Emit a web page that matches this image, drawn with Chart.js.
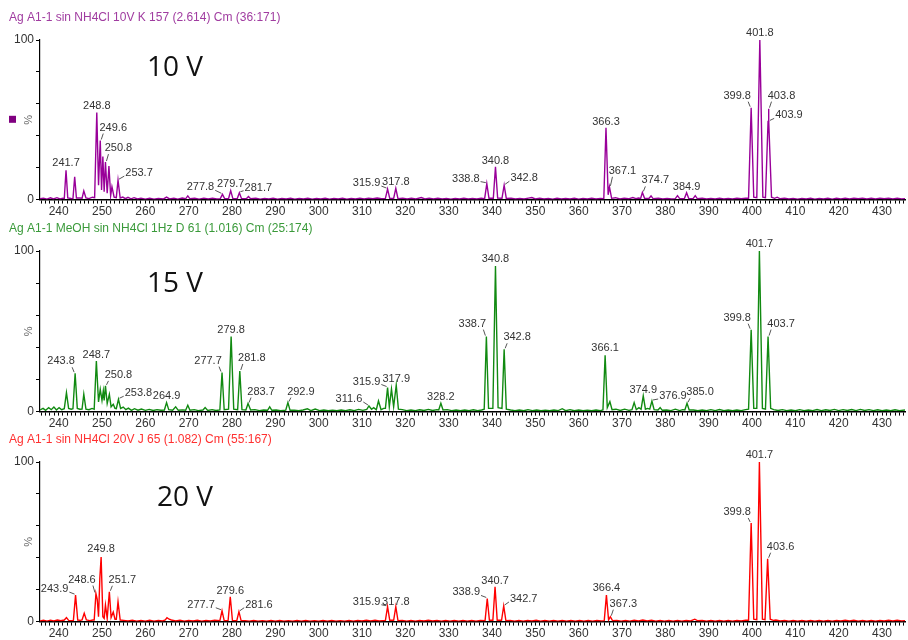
<!DOCTYPE html>
<html>
<head>
<meta charset="utf-8">
<script src="https://cdn.jsdelivr.net/npm/chart.js@4.4.1/dist/chart.umd.min.js"></script>
<style>
  body { margin: 0; background: #fff; width: 908px; height: 640px; overflow: hidden; position: relative; }
  .panel { position: absolute; left: 0; width: 908px; }
</style>
</head>
<body>
<div class="panel" style="top:0;height:220px"><canvas id="c10"></canvas></div>
<div class="panel" style="top:220px;height:212px"><canvas id="c15"></canvas></div>
<div class="panel" style="top:432px;height:210px"><canvas id="c20"></canvas></div>
<script>
// m/z range and axis ticks
const mzMin = 235.7;
const mzMax = 435.3;
const xTickLabels = [240, 250, 260, 270, 280, 290, 300, 310, 320, 330, 340, 350, 360, 370, 380, 390, 400, 410, 420, 430];
const yTickLabels = [0, 100];

// 10 V spectrum (purple)
const mz10 = [
  235.7, 236.5, 237.3, 238.1, 238.8, 239.6, 240.3, 241.0, 241.3, 241.7,
  242.1, 242.9, 243.3, 243.7, 244.1, 244.9, 245.4, 245.8, 246.3, 247.0,
  247.8, 248.3, 248.8, 249.2, 249.6, 249.9, 250.2, 250.5, 250.8, 251.2,
  251.6, 252.0, 252.3, 252.8, 253.3, 253.7, 254.2, 254.8, 255.4, 256.0,
  256.7, 257.4, 258.2, 259.0, 260.0, 261.0, 262.0, 263.0, 264.2, 264.9,
  265.6, 266.6, 267.5, 268.5, 269.3, 269.8, 270.3, 271.4, 272.4, 273.5,
  274.5, 275.5, 276.5, 277.3, 277.8, 278.3, 279.2, 279.7, 280.2, 281.2,
  281.7, 282.2, 283.3, 283.8, 284.3, 285.5, 286.5, 287.5, 288.5, 289.5,
  290.5, 291.5, 292.5, 293.5, 294.5, 295.5, 296.5, 297.5, 298.5, 299.5,
  300.5, 301.5, 302.5, 303.5, 304.5, 305.5, 306.5, 307.5, 308.5, 309.5,
  310.5, 311.5, 312.5, 313.5, 314.5, 315.4, 315.9, 316.4, 317.3, 317.8,
  318.3, 319.4, 320.4, 321.4, 322.4, 323.7, 324.5, 325.5, 326.5, 327.5,
  328.5, 329.5, 330.5, 331.5, 332.5, 333.5, 334.5, 335.5, 336.5, 337.5,
  338.3, 338.8, 339.3, 340.3, 340.8, 341.3, 342.3, 342.8, 343.3, 344.4,
  345.4, 346.4, 347.4, 348.4, 349.2, 350.0, 351.0, 352.0, 353.0, 354.0,
  355.0, 356.0, 357.0, 358.0, 359.0, 360.0, 361.0, 362.0, 363.0, 364.0,
  365.0, 365.8, 366.3, 366.8, 367.1, 367.6, 368.5, 369.5, 370.5, 371.5,
  372.5, 373.2, 373.8, 374.3, 374.7, 375.2, 376.2, 376.7, 377.2, 378.4,
  379.4, 380.4, 381.4, 382.3, 382.8, 383.3, 384.4, 384.9, 385.4, 386.4,
  386.9, 387.4, 388.5, 389.5, 390.5, 391.5, 392.5, 393.5, 394.5, 395.5,
  396.5, 397.5, 398.5, 399.2, 399.8, 400.4, 401.1, 401.8, 402.5, 403.1,
  403.7, 403.8, 403.9, 404.5, 405.2, 405.8, 406.5, 407.5, 408.5, 409.5,
  410.5, 411.5, 412.5, 413.5, 414.5, 415.5, 416.5, 417.5, 418.5, 419.5,
  420.5, 421.5, 422.5, 423.5, 424.5, 425.5, 426.5, 427.5, 428.5, 429.5,
  430.5, 431.5, 432.5, 433.5, 434.5, 435.3
];
const int10 = [
  0.5, 0.9, 0.3, 1.1, 0.4, 1.2, 0.4, 0.9, 0.6, 18.4,
  1.0, 0.7, 0.6, 14.3, 1.0, 1.0, 0.9, 5.4, 1.0, 0.6,
  1.5, 1.2, 54.5, 9.0, 37.0, 6.0, 27.0, 5.0, 23.5, 4.0,
  21.0, 2.5, 8.0, 1.5, 1.2, 12.2, 1.0, 1.6, 0.6, 1.4,
  0.5, 1.2, 0.4, 0.9, 0.3, 0.8, 0.3, 0.7, 0.4, 1.6,
  0.4, 0.8, 0.3, 1.0, 0.5, 2.3, 0.5, 0.8, 0.3, 0.9,
  0.4, 0.8, 0.4, 0.6, 3.3, 0.6, 0.5, 5.6, 0.6, 0.5,
  4.3, 0.6, 0.5, 1.9, 0.5, 0.8, 0.3, 0.7, 0.4, 0.8,
  0.3, 0.7, 0.4, 0.8, 0.3, 0.7, 0.4, 0.8, 0.3, 0.7,
  0.4, 0.8, 0.3, 0.7, 0.4, 0.8, 0.3, 0.7, 0.4, 0.9,
  0.4, 0.9, 0.5, 1.0, 0.6, 0.8, 6.6, 0.8, 0.7, 7.0,
  0.6, 0.9, 0.4, 0.8, 0.4, 1.3, 0.4, 0.9, 0.4, 0.8,
  0.4, 0.7, 0.3, 0.7, 0.4, 0.8, 0.4, 0.7, 0.4, 0.8,
  0.6, 10.0, 0.8, 0.8, 20.5, 0.9, 0.8, 9.0, 0.7, 0.8,
  0.4, 0.7, 0.4, 0.9, 1.3, 0.4, 0.8, 0.4, 0.7, 0.3,
  0.8, 0.4, 0.7, 0.4, 0.8, 0.3, 0.7, 0.4, 0.8, 0.4,
  0.7, 0.6, 45.0, 3.0, 8.0, 0.8, 1.2, 0.4, 0.8, 0.5,
  1.3, 0.6, 1.0, 0.7, 4.5, 0.8, 0.7, 2.3, 0.5, 0.8,
  0.4, 0.7, 0.4, 0.6, 2.5, 0.6, 0.7, 4.3, 0.7, 0.6,
  2.5, 0.5, 0.8, 0.4, 0.7, 0.4, 0.8, 0.4, 0.7, 0.4,
  0.8, 0.5, 0.9, 0.8, 57.6, 1.5, 1.2, 100, 1.5, 1.2,
  49.0, 57.0, 49.0, 1.5, 0.8, 1.5, 0.5, 0.8, 0.4, 0.7,
  0.3, 0.7, 0.4, 0.8, 0.3, 0.7, 0.4, 0.8, 0.3, 0.8,
  0.4, 0.9, 0.4, 0.8, 0.5, 0.9, 0.4, 0.8, 0.4, 0.9,
  0.5, 0.8, 0.4, 0.8, 0.4, 0.6
];
const labels10 = ['241.7', '248.8', '249.6', '250.8', '253.7', '277.8', '279.7', '281.7', '315.9', '317.8',
  '338.8', '340.8', '342.8', '366.3', '367.1', '374.7', '384.9', '399.8', '401.8', '403.8', '403.9'];

// 15 V spectrum (green)
const mz15 = [
  235.7, 236.4, 237.0, 237.7, 238.3, 238.9, 239.5, 240.1, 240.7, 241.3,
  241.8, 242.3, 242.9, 243.3, 243.8, 244.3, 244.9, 245.4, 245.8, 246.3,
  247.0, 247.7, 248.2, 248.7, 249.2, 249.6, 250.0, 250.3, 250.5, 250.8,
  251.2, 251.7, 252.1, 252.6, 253.0, 253.3, 253.8, 254.3, 254.9, 255.5,
  256.1, 256.8, 257.5, 258.3, 259.1, 260.0, 260.9, 261.8, 262.7, 263.6,
  264.4, 264.9, 265.4, 266.3, 267.0, 267.6, 268.6, 269.3, 269.8, 270.3,
  271.3, 272.2, 273.3, 273.8, 274.4, 275.4, 276.3, 277.2, 277.7, 278.2,
  279.2, 279.8, 280.4, 281.3, 281.8, 282.3, 283.2, 283.7, 284.3, 285.3,
  286.3, 287.3, 288.2, 288.7, 289.2, 290.2, 291.2, 292.4, 292.9, 293.4,
  294.4, 295.4, 296.4, 297.4, 298.2, 299.2, 300.2, 301.2, 302.2, 303.2,
  304.2, 305.2, 306.2, 307.2, 308.2, 309.2, 310.2, 311.1, 311.6, 312.2,
  312.7, 313.3, 313.8, 314.4, 315.0, 315.4, 315.9, 316.3, 316.8, 317.3,
  317.9, 318.4, 319.3, 320.3, 321.3, 322.3, 323.3, 324.3, 325.3, 326.3,
  327.3, 327.7, 328.2, 328.7, 329.7, 330.7, 331.7, 332.7, 333.7, 334.7,
  335.7, 336.7, 337.6, 338.2, 338.7, 339.2, 340.2, 340.8, 341.4, 342.3,
  342.8, 343.3, 344.3, 345.3, 346.3, 347.3, 348.3, 349.3, 350.3, 351.3,
  352.3, 353.3, 354.3, 355.3, 356.2, 357.0, 358.0, 359.0, 360.0, 361.0,
  362.0, 363.0, 364.0, 365.0, 365.6, 366.1, 366.6, 367.2, 367.7, 368.6,
  369.6, 370.6, 371.6, 372.3, 372.8, 373.3, 373.9, 374.4, 374.9, 375.4,
  375.9, 376.4, 376.9, 377.4, 378.3, 378.8, 379.3, 380.3, 381.3, 382.3,
  383.3, 384.0, 384.5, 385.0, 385.5, 386.5, 387.5, 388.5, 389.5, 390.5,
  391.5, 392.5, 393.5, 394.5, 395.5, 396.5, 397.5, 398.5, 399.2, 399.8,
  400.4, 401.1, 401.7, 402.4, 403.1, 403.7, 404.3, 405.0, 406.0, 407.0,
  408.0, 409.0, 410.0, 411.0, 412.0, 413.0, 414.0, 415.0, 416.0, 417.0,
  418.0, 419.0, 420.0, 421.0, 422.0, 423.0, 424.0, 425.0, 426.0, 427.0,
  428.0, 429.0, 430.0, 431.0, 432.0, 433.0, 434.0, 435.3
];
const int15 = [
  1.0, 2.0, 0.8, 2.5, 1.2, 2.8, 1.0, 2.5, 1.2, 1.8,
  11.8, 2.0, 1.5, 1.8, 23.9, 2.0, 1.5, 1.6, 10.8, 1.5,
  1.2, 2.0, 1.5, 31.5, 6.0, 13.9, 7.0, 12.9, 7.0, 16.0,
  5.0, 10.8, 3.0, 4.6, 2.0, 1.8, 7.7, 2.0, 2.8, 1.2,
  2.2, 0.8, 1.8, 0.9, 1.6, 0.8, 1.4, 0.7, 1.2, 0.8,
  1.0, 5.6, 1.2, 0.9, 3.0, 0.8, 1.1, 0.9, 4.0, 0.9,
  1.2, 0.6, 1.0, 2.5, 0.7, 1.2, 0.7, 1.0, 24.3, 1.2,
  1.5, 46.7, 1.5, 1.2, 25.3, 1.2, 1.0, 5.0, 1.0, 1.2,
  0.6, 1.0, 0.8, 3.0, 0.8, 1.0, 0.5, 0.9, 5.6, 0.8,
  0.9, 0.5, 1.0, 1.8, 0.6, 1.6, 0.6, 1.0, 0.5, 0.9,
  0.5, 1.0, 0.6, 1.1, 0.6, 1.4, 0.8, 1.4, 3.5, 1.5,
  2.5, 1.2, 6.6, 1.2, 2.0, 2.0, 15.0, 3.0, 14.0, 3.0,
  16.4, 1.5, 1.2, 0.6, 1.0, 0.6, 1.1, 0.7, 1.4, 0.7,
  1.2, 1.0, 5.2, 1.0, 1.2, 0.6, 1.0, 0.5, 1.0, 0.6,
  1.1, 0.6, 1.0, 1.5, 46.7, 2.0, 2.0, 90.7, 2.5, 2.0,
  38.8, 1.5, 1.0, 0.6, 1.0, 0.5, 1.2, 0.6, 1.0, 0.5,
  0.9, 0.5, 1.0, 0.6, 1.8, 0.6, 1.2, 0.5, 1.0, 0.5,
  0.9, 0.5, 1.0, 0.6, 1.0, 35.0, 2.5, 6.2, 1.2, 1.5,
  0.7, 1.5, 0.8, 1.2, 5.6, 1.2, 2.5, 1.5, 9.8, 1.5,
  2.0, 1.5, 6.6, 1.2, 1.0, 2.5, 0.8, 1.0, 0.6, 1.5,
  0.6, 1.2, 1.0, 5.2, 1.0, 1.0, 0.5, 1.0, 0.6, 1.2,
  0.6, 1.3, 0.6, 1.0, 0.5, 1.0, 0.6, 1.2, 1.5, 51.0,
  2.0, 2.0, 100, 2.0, 1.5, 46.7, 2.0, 1.2, 0.7, 1.2,
  0.6, 1.0, 0.5, 1.2, 0.6, 1.0, 0.6, 1.3, 0.6, 1.1,
  0.7, 1.4, 0.6, 1.2, 0.7, 1.3, 0.6, 1.4, 0.7, 1.2,
  0.6, 1.1, 0.6, 1.0, 0.5, 1.1, 0.6, 1.0
];
const labels15 = ['243.8', '248.7', '250.8', '253.8', '264.9', '277.7', '279.8', '281.8', '283.7', '292.9',
  '311.6', '315.9', '317.9', '328.2', '338.7', '340.8', '342.8', '366.1', '374.9', '376.9', '385.0',
  '399.8', '401.7', '403.7'];

// 20 V spectrum (red)
const mz20 = [
  235.7, 236.5, 237.3, 238.1, 238.9, 239.7, 240.5, 241.3, 241.8, 242.3,
  243.0, 243.4, 243.9, 244.4, 245.0, 245.4, 245.9, 246.4, 247.2, 247.9,
  248.2, 248.6, 248.9, 249.2, 249.5, 249.8, 250.2, 250.5, 250.8, 251.2,
  251.7, 252.1, 252.6, 253.0, 253.3, 253.7, 254.2, 255.0, 256.0, 257.0,
  258.0, 259.0, 260.0, 261.0, 262.0, 263.0, 264.0, 264.6, 265.0, 265.5,
  266.0, 267.0, 268.0, 269.0, 270.0, 271.0, 272.0, 273.0, 274.0, 275.0,
  276.0, 277.2, 277.7, 278.2, 279.1, 279.6, 280.1, 281.1, 281.6, 282.1,
  283.0, 284.0, 285.0, 286.0, 287.0, 288.0, 289.0, 290.0, 291.0, 292.0,
  293.0, 294.0, 295.0, 296.0, 297.0, 298.0, 299.0, 300.0, 301.0, 302.0,
  303.0, 304.0, 305.0, 306.0, 307.0, 308.0, 309.0, 310.0, 311.0, 312.0,
  313.0, 314.0, 315.4, 315.9, 316.4, 317.3, 317.8, 318.3, 319.3, 320.3,
  321.3, 322.3, 323.3, 324.3, 325.3, 326.3, 327.3, 328.3, 329.3, 330.3,
  331.3, 332.3, 333.3, 334.3, 335.3, 336.3, 337.3, 338.4, 338.9, 339.4,
  340.2, 340.7, 341.2, 342.2, 342.7, 343.2, 344.2, 345.2, 346.2, 347.2,
  348.2, 349.2, 350.2, 351.2, 352.2, 353.2, 354.2, 355.2, 356.2, 357.2,
  358.2, 359.2, 360.2, 361.2, 362.2, 363.2, 364.2, 365.2, 365.9, 366.4,
  366.9, 367.3, 367.8, 368.8, 369.8, 370.8, 371.8, 372.8, 373.8, 374.8,
  375.8, 376.8, 377.8, 378.8, 379.8, 380.8, 381.8, 382.8, 383.8, 384.8,
  385.8, 386.8, 387.5, 388.5, 389.5, 390.5, 391.5, 392.5, 393.5, 394.5,
  395.5, 396.5, 397.5, 398.5, 399.2, 399.8, 400.4, 401.1, 401.7, 402.4,
  403.0, 403.6, 404.2, 404.9, 405.5, 406.5, 407.5, 408.5, 409.5, 410.5,
  411.5, 412.5, 413.5, 414.5, 415.5, 416.5, 417.5, 418.5, 419.5, 420.5,
  421.5, 422.5, 423.5, 424.5, 425.5, 426.5, 427.5, 428.5, 429.5, 430.5,
  431.5, 432.5, 433.5, 434.5, 435.3
];
const int20 = [
  0.4, 0.8, 0.3, 0.9, 0.4, 1.0, 0.5, 1.0, 2.5, 0.8,
  0.6, 0.8, 16.6, 1.0, 0.8, 1.0, 5.2, 1.0, 0.6, 1.0,
  1.0, 17.6, 14.0, 3.0, 27.0, 40.5, 3.0, 2.0, 10.4, 2.0,
  18.7, 2.5, 6.0, 1.5, 1.5, 12.4, 1.0, 0.8, 0.4, 0.8,
  0.3, 0.7, 0.3, 0.8, 0.3, 0.7, 0.4, 1.0, 2.5, 1.5,
  1.0, 0.4, 0.8, 0.3, 0.7, 0.4, 0.8, 0.3, 0.7, 0.4,
  0.8, 0.6, 6.8, 0.6, 0.6, 15.6, 0.8, 0.6, 6.2, 0.6,
  0.6, 0.3, 0.7, 0.3, 0.6, 0.3, 0.7, 0.3, 0.7, 0.3,
  0.6, 0.3, 0.7, 0.3, 0.7, 0.3, 0.6, 0.3, 0.7, 0.3,
  0.7, 0.3, 0.6, 0.3, 0.7, 0.3, 0.7, 0.4, 0.8, 0.4,
  0.8, 0.4, 0.8, 9.3, 0.8, 0.8, 9.3, 0.6, 0.7, 0.3,
  0.7, 0.3, 0.7, 0.4, 0.8, 0.4, 0.7, 0.3, 0.7, 0.3,
  0.7, 0.3, 0.7, 0.3, 0.7, 0.3, 0.7, 0.6, 14.5, 0.8,
  0.8, 21.8, 0.8, 0.8, 9.8, 0.6, 0.7, 0.3, 0.7, 0.3,
  0.7, 0.4, 0.8, 0.3, 0.7, 0.3, 0.7, 0.3, 0.7, 0.3,
  0.7, 0.3, 0.7, 0.3, 0.7, 0.3, 0.7, 0.4, 0.6, 16.6,
  1.0, 3.1, 0.6, 0.7, 0.3, 0.7, 0.3, 0.8, 0.4, 1.0,
  0.4, 0.8, 0.3, 0.7, 0.3, 0.7, 0.3, 0.7, 0.3, 0.7,
  0.4, 1.5, 0.5, 0.7, 0.3, 0.7, 0.3, 0.7, 0.3, 0.7,
  0.3, 0.7, 0.4, 0.8, 0.8, 61.8, 1.5, 1.2, 100, 1.5,
  1.2, 39.4, 1.5, 0.8, 1.0, 0.4, 0.7, 0.3, 0.7, 0.3,
  0.7, 0.3, 0.7, 0.3, 0.7, 0.3, 0.7, 0.3, 0.7, 0.4,
  0.8, 0.4, 0.8, 0.3, 0.7, 0.3, 0.7, 0.3, 0.7, 0.4,
  0.8, 0.4, 0.8, 0.4, 0.6
];
const labels20 = ['243.9', '248.6', '249.8', '251.7', '277.7', '279.6', '281.6', '315.9', '317.8',
  '338.9', '340.7', '342.7', '366.4', '367.3', '399.8', '401.7', '403.6'];

// label placement (offset of label centre from peak tip, px)
const shifts10 = [[0, -7], [0, -7], [13, -13], [13, -14], [21, -7], [-22, -7], [0, -7], [19, -5], [-21, -6], [0, -6],
  [-21, -5], [0, -6], [20, -7], [0, -6], [13, -16], [13, -12], [0, -6], [-14, -12], [0, -7], [13, -13], [20, -6]];
const shifts15 = [[-14, -12], [0, -6], [13, -11], [20, -6], [0, -7], [-14, -12], [0, -7], [12, -13], [13, -12], [13, -11],
  [-20, -7], [-21, -6], [0, -6], [0, -6], [-14, -13], [0, -7], [13, -12], [0, -7], [0, -6], [21, -5], [13, -11],
  [-14, -12], [0, -7], [13, -13]];
const shifts20 = [[-21, -6], [-14, -14], [0, -8], [13, -12], [-21, -6], [0, -6], [20, -7], [-21, -5], [0, -5],
  [-21, -6], [0, -6], [20, -7], [0, -7], [13, -13], [-14, -11], [0, -7], [13, -12]];

const tickFont = { family: '"Liberation Sans", Arial, sans-serif', size: 12 };
const labelFont = '11px "Liberation Sans", Arial, sans-serif';

// Titles, peak labels and annotations
const peakLabels = {
  id: 'peakLabels',
  afterDatasetsDraw(chart, args, o) {
    const { ctx, chartArea } = chart;
    const x = chart.scales.x, y = chart.scales.y;
    ctx.save();

    ctx.font = '12px "Liberation Sans", Arial, sans-serif';
    ctx.fillStyle = o.titleColor;
    ctx.textAlign = 'left';
    ctx.textBaseline = 'middle';
    ctx.fillText(o.title, 9, chartArea.top - 22);

    const yMid = y.getPixelForValue(50);
    if (o.marker) {
      ctx.fillStyle = o.marker;
      ctx.fillRect(9, yMid - 4, 7, 7);
    }
    ctx.save();
    ctx.translate(29, yMid);
    ctx.rotate(-Math.PI / 2);
    ctx.fillStyle = '#666';
    ctx.font = '11px "Liberation Sans", Arial, sans-serif';
    ctx.textAlign = 'center';
    ctx.fillText('%', 0, 0);
    ctx.restore();

    ctx.font = '28px "Open Sans", sans-serif';
    ctx.fillStyle = '#111';
    ctx.textAlign = 'left';
    ctx.fillText(o.voltage, o.vx, chartArea.top + o.vdy);

    ctx.font = labelFont;
    ctx.fillStyle = '#333';
    ctx.strokeStyle = '#555';
    ctx.lineWidth = 1;
    ctx.textAlign = 'center';
    o.labels.forEach((txt, i) => {
      const m = parseFloat(txt);
      let k = 0;
      o.mz.forEach((v, j) => { if (Math.abs(v - m) < Math.abs(o.mz[k] - m)) k = j; });
      const px = x.getPixelForValue(o.mz[k]);
      const py = y.getPixelForValue(o.inten[k]);
      const [dx, dy] = o.shifts[i];
      const cx = px + dx, cy = py + dy;
      ctx.fillText(txt, cx, cy);
      if (dx !== 0) {
        const w = ctx.measureText(txt).width;
        let ex, ey = cy + 3;
        if (dx > 0) {
          ex = cx - w / 2 - 1;
          if (ex < px + 3) { ex = px + 3; ey = cy + 6; }
        } else {
          ex = cx + w / 2 + 1;
          if (ex > px - 3) { ex = px - 3; ey = cy + 6; }
        }
        ctx.beginPath();
        ctx.moveTo(px + Math.sign(dx), py - 1);
        ctx.lineTo(ex, ey);
        ctx.stroke();
      }
    });
    ctx.restore();
  }
};

function makeSpectrum(id, mz, inten, cfg) {
  new Chart(document.getElementById(id), {
    type: 'line',
    data: {
      datasets: [{
        data: mz.map((v, i) => ({ x: v, y: inten[i] })),
        borderColor: cfg.color,
        borderWidth: 1.4,
        pointRadius: 0,
        tension: 0
      }]
    },
    options: {
      animation: false,
      responsive: true,
      maintainAspectRatio: false,
      layout: { padding: { top: cfg.padTop, left: 12, right: 3, bottom: 0 } },
      scales: {
        x: {
          type: 'linear',
          min: mzMin,
          max: mzMax,
          grid: { drawOnChartArea: false, tickLength: 4, color: '#000' },
          border: { color: '#000', width: 1.5 },
          ticks: {
            stepSize: 1,
            autoSkip: false,
            maxRotation: 0,
            includeBounds: false,
            padding: 1,
            color: '#333',
            font: tickFont,
            callback: v => xTickLabels.includes(v) ? String(v) : ''
          }
        },
        y: {
          min: 0,
          max: 100,
          grid: { drawOnChartArea: false, tickLength: 4, color: '#000' },
          border: { color: '#000', width: 1.2 },
          ticks: {
            stepSize: 10,
            padding: 2,
            color: '#333',
            font: tickFont,
            callback: v => yTickLabels.includes(v) ? String(v) : ''
          }
        }
      },
      plugins: {
        legend: { display: false },
        tooltip: { enabled: false },
        peakLabels: {
          title: cfg.title, titleColor: cfg.titleColor, marker: cfg.marker,
          voltage: cfg.voltage, vx: cfg.vx, vdy: cfg.vdy,
          labels: cfg.labels, shifts: cfg.shifts, mz: mz, inten: inten
        }
      }
    },
    plugins: [peakLabels]
  });
}

makeSpectrum('c10', mz10, int10, {
  color: '#990099', padTop: 40, title: 'Ag A1-1 sin NH4Cl 10V K 157 (2.614) Cm (36:171)',
  titleColor: '#a03ca0', marker: '#800080', voltage: '10 V', vx: 147, vdy: 28,
  labels: labels10, shifts: shifts10
});
makeSpectrum('c15', mz15, int15, {
  color: '#118a11', padTop: 31, title: 'Ag A1-1 MeOH sin NH4Cl 1Hz D 61 (1.016) Cm (25:174)',
  titleColor: '#3a9a3a', marker: null, voltage: '15 V', vx: 147, vdy: 33,
  labels: labels15, shifts: shifts15
});
makeSpectrum('c20', mz20, int20, {
  color: '#ff0000', padTop: 30, title: 'Ag A1-1 sin NH4Cl 20V J 65 (1.082) Cm (55:167)',
  titleColor: '#ff3030', marker: null, voltage: '20 V', vx: 157, vdy: 36,
  labels: labels20, shifts: shifts20
});
</script>
</body>
</html>
